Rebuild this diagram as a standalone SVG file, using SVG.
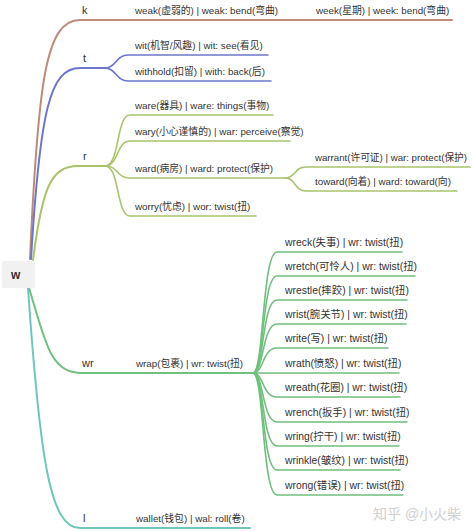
<svg xmlns="http://www.w3.org/2000/svg" width="474" height="531" viewBox="0 0 474 531">
<style>
text{font-family:"Liberation Sans","Noto Sans CJK SC",sans-serif;font-size:9.8px;fill:#333}
.c{font-size:10.4px}
.lbl{font-size:11px}
path{fill:none;stroke-linecap:round}
.k{stroke:#c08a78}
.t{stroke:#6b78c9}
.r{stroke:#a9c46c}
.wr{stroke:#70c07e}
.l{stroke:#6fc6c1}
.main{stroke-width:2}
.sub{stroke-width:1.6}
</style>
<rect width="474" height="531" fill="#fff"/>
<g id="connectors">
  <path class="k main" d="M30 259 C38 80,46 20,80 20 L452 20"/>
  <path class="t main" d="M31 259 C40 110,50 68,80 68 L105 68"/>
  <path class="t sub" d="M105 68 C116 68,116 55,128 55 L268 55"/>
  <path class="t sub" d="M105 68 C116 68,116 81,128 81 L271 81"/>
  <path class="r main" d="M33 260 C42 190,50 166,78 166 L105 166"/>
  <path class="r sub" d="M105 166 C120 166,116 115,130 115 L273 115"/>
  <path class="r sub" d="M105 166 C119 166,116 141,130 141 L290 141"/>
  <path class="r sub" d="M105 166 C119 166,116 178,130 178 L285 178"/>
  <path class="r sub" d="M105 166 C120 166,116 216,130 216 L256 216"/>
  <path class="r sub" d="M285 178 C296 178,294 167,306 167 L470 167"/>
  <path class="r sub" d="M285 178 C296 178,294 191,306 191 L457 191"/>
  <path class="wr main" d="M29 288 C45 340,50 373,80 373 L253 373"/>
  <path class="wr sub" d="M253 373 C264 373,262 252,277 252 L402 252"/>
  <path class="wr sub" d="M253 373 C264 373,262 276,277 276 L415 276"/>
  <path class="wr sub" d="M253 373 C264 373,262 300,277 300 L407 300"/>
  <path class="wr sub" d="M253 373 C264 373,262 324,277 324 L406 324"/>
  <path class="wr sub" d="M253 373 C264 373,262 348,277 348 L388 348"/>
  <path class="wr sub" d="M253 373 L399 373"/>
  <path class="wr sub" d="M253 373 C264 373,262 397,277 397 L400 397"/>
  <path class="wr sub" d="M253 373 C264 373,262 422,277 422 L407 422"/>
  <path class="wr sub" d="M253 373 C264 373,262 446,277 446 L399 446"/>
  <path class="wr sub" d="M253 373 C264 373,262 470,277 470 L400 470"/>
  <path class="wr sub" d="M253 373 C264 373,262 495,277 495 L403 495"/>
  <path class="l main" d="M28 288 C40 460,50 528,80 528 L250 528"/>
</g>
<g id="root"><rect x="2" y="261" width="33" height="27" rx="2" fill="#f1f1f1"/><text x="11" y="279" style="font-size:12px;font-weight:bold">w</text></g>
<g id="k"><text class="lbl" x="82" y="14">k</text></g>
<g id="weak"><text x="135" y="14">weak(虚弱的) | weak: bend(弯曲)</text></g>
<g id="week"><text x="316" y="14">week(星期) | week: bend(弯曲)</text></g>
<g id="t"><text class="lbl" x="83" y="62">t</text></g>
<g id="wit"><text x="135" y="49">wit(机智/风趣) | wit: see(看见)</text></g>
<g id="withhold"><text x="135" y="75">withhold(扣留) | with: back(后)</text></g>
<g id="r"><text class="lbl" x="83" y="160">r</text></g>
<g id="ware"><text x="135" y="109">ware(器具) | ware: things(事物)</text></g>
<g id="wary"><text x="135" y="135">wary(小心谨慎的) | war: perceive(察觉)</text></g>
<g id="ward"><text x="135" y="172">ward(病房) | ward: protect(保护)</text></g>
<g id="worry"><text x="135" y="210">worry(忧虑) | wor: twist(扭)</text></g>
<g id="warrant"><text x="315" y="161" textLength="152" lengthAdjust="spacingAndGlyphs">warrant(许可证) | war: protect(保护)</text></g>
<g id="toward"><text x="315" y="185">toward(向着) | ward: toward(向)</text></g>
<g id="wr"><text class="lbl" x="82" y="367">wr</text></g>
<g id="wrap"><text x="136" y="367">wrap(包裹) | wr: twist(扭)</text></g>
<g id="wreck"><text class="c" x="285" y="246">wreck(失事) | wr: twist(扭)</text></g>
<g id="wretch"><text class="c" x="285" y="270">wretch(可怜人) | wr: twist(扭)</text></g>
<g id="wrestle"><text class="c" x="285" y="294">wrestle(摔跤) | wr: twist(扭)</text></g>
<g id="wrist"><text class="c" x="285" y="318">wrist(腕关节) | wr: twist(扭)</text></g>
<g id="write"><text class="c" x="285" y="342">write(写) | wr: twist(扭)</text></g>
<g id="wrath"><text class="c" x="285" y="367">wrath(愤怒) | wr: twist(扭)</text></g>
<g id="wreath"><text class="c" x="285" y="391">wreath(花圈) | wr: twist(扭)</text></g>
<g id="wrench"><text class="c" x="285" y="416">wrench(扳手) | wr: twist(扭)</text></g>
<g id="wring"><text class="c" x="285" y="440">wring(拧干) | wr: twist(扭)</text></g>
<g id="wrinkle"><text class="c" x="285" y="464">wrinkle(皱纹) | wr: twist(扭)</text></g>
<g id="wrong"><text class="c" x="285" y="489">wrong(错误) | wr: twist(扭)</text></g>
<g id="l"><text class="lbl" x="83" y="522">l</text></g>
<g id="wallet"><text x="136" y="522">wallet(钱包) | wal: roll(卷)</text></g>
<text x="373" y="519" style="font-size:14px;fill:#d0d0d0">知乎 @小火柴</text>
</svg>
